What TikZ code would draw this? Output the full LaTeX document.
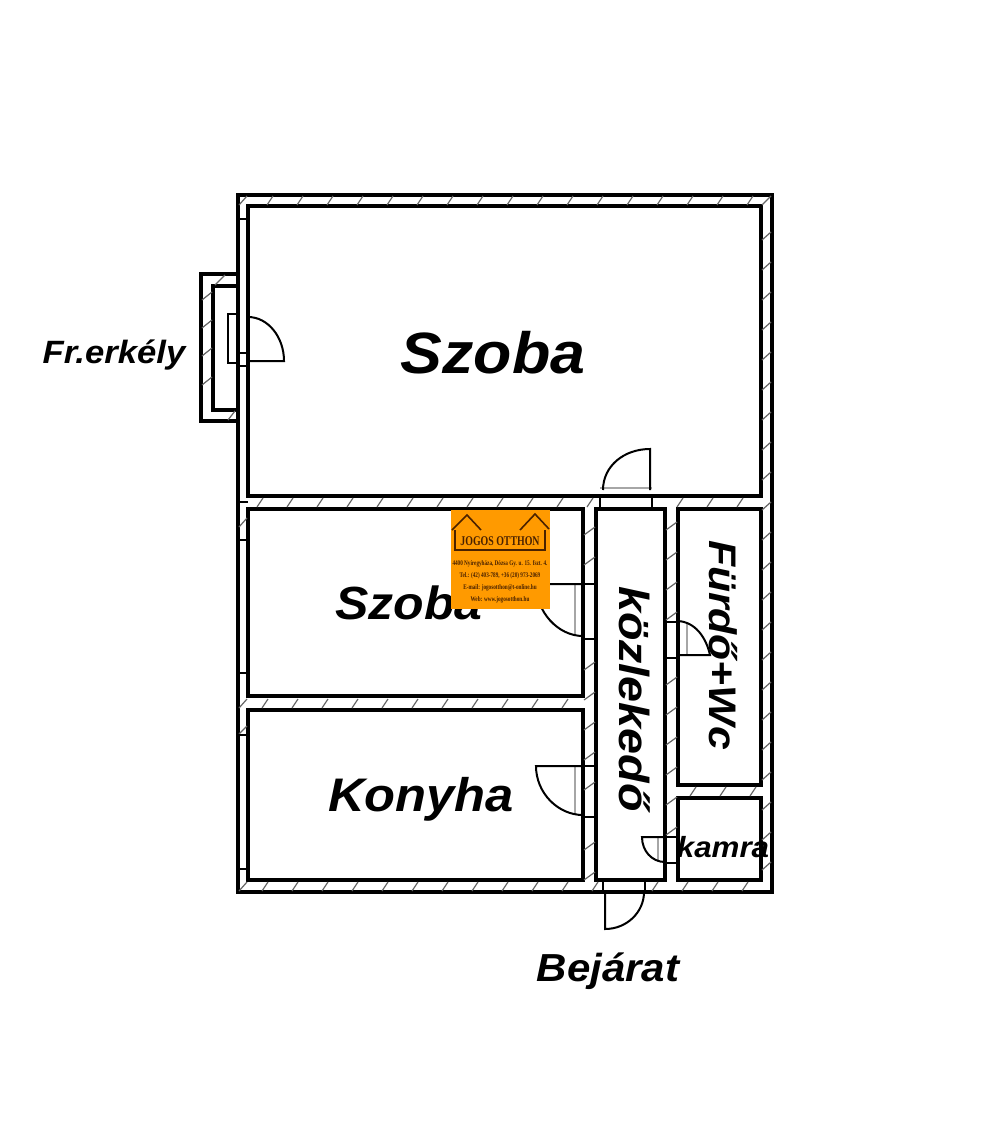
\documentclass[tikz,border=0pt]{standalone}
\usepackage{fontspec}
\setmainfont{Liberation Sans}
\newfontfamily\logofont{Liberation Serif}
\usepackage{tikz}
\definecolor{logoorange}{HTML}{FF9A00}
\definecolor{logobrown}{HTML}{4A2200}

\begin{document}
\begin{tikzpicture}[x=0.75pt,y=-0.75pt]
			\tikzstyle{wall}=[draw=black,line width=3pt,line join=miter]
			\tikzstyle{wallcap}=[draw=black,line width=1.8pt]
			\tikzstyle{hatch}=[draw=black!60,line width=0.9pt]
			\tikzstyle{door}=[draw=black,line width=1.5pt]
			\tikzstyle{sill}=[draw=black!35,line width=1.2pt]
			\tikzstyle{room}=[inner sep=0pt,yscale=.93]
			\tikzstyle{roomside}=[inner sep=0pt,rotate=-90,yscale=.9]
			\tikzstyle{logoline}=[draw=logobrown,line width=1.2pt]
			\tikzstyle{logotext}=[font=\logofont\bfseries\fontsize{4.1}{5}\selectfont,text=logobrown,inner sep=0pt,xscale=.95,yscale=1.3]

			\useasboundingbox (0,0) rectangle (1000,1121);
			\fill[white] (0,0) rectangle (1000,1121);

			\draw[wall] (238,195) rectangle (772,892);
			\draw[wall] (248,206) rectangle (761,496);
			\draw[wall] (248,509) rectangle (583,696);
			\draw[wall] (248,710) rectangle (583,880);
			\draw[wall] (596,509) rectangle (665,880);
			\draw[wall] (678,509) rectangle (761,785);
			\draw[wall] (678,798) rectangle (761,880);
			\draw[wall] (238,274) -- (201,274) -- (201,421) -- (238,421);
			\draw[wall] (238,286) -- (213,286) -- (213,410) -- (238,410);

			\foreach \x in {267,297,...,747}
				\draw[hatch] (\x,205) -- (\x+6,196);
			\foreach \x in {257,287,...,587,677,707,737}
				\draw[hatch] (\x,507) -- (\x+6,498);
			\foreach \x in {262,292,...,562}
				\draw[hatch] (\x,708) -- (\x+6,699);
			\foreach \x in {262,292,...,592,652,682,712,742}
				\draw[hatch] (\x,891) -- (\x+6,882);
			\foreach \x in {690,720,750}
				\draw[hatch] (\x,796) -- (\x+6,787);
			\foreach \y in {235,265,...,865}
				\draw[hatch] (762,\y+5) -- (771,\y-3);
			\foreach \y in {530,560,665,695,725,755,785,845,875}
				\draw[hatch] (584,\y+5) -- (595,\y-3);
			\foreach \y in {525,555,585,615,680,710,740,770,800,830}
				\draw[hatch] (666,\y+5) -- (677,\y-3);
			\foreach \y in {295,323,351,380}
				\draw[hatch] (202,\y+5) -- (212,\y-3);
			\draw[hatch] (215,285) -- (225,275);
			\draw[hatch] (228,420) -- (235,411);
			\draw[hatch] (239,205) -- (247,196);
			\draw[hatch] (239,527) -- (247,518);
			\draw[hatch] (239,708) -- (247,699);
			\draw[hatch] (239,734) -- (247,726);
			\draw[hatch] (239,891) -- (247,882);
			\draw[hatch] (762,205) -- (771,196);

			\foreach \y in {219,502,540,673,735,869}
				\draw[wallcap] (238,\y) -- (248,\y);
			\draw[wallcap] (600,497) -- (600,508);
			\draw[wallcap] (652,497) -- (652,508);
			\draw[wallcap] (583,584) -- (596,584);
			\draw[wallcap] (583,639) -- (596,639);
			\draw[wallcap] (583,766) -- (596,766);
			\draw[wallcap] (583,817) -- (596,817);
			\draw[wallcap] (665,622) -- (678,622);
			\draw[wallcap] (665,658) -- (678,658);
			\draw[wallcap] (665,837) -- (678,837);
			\draw[wallcap] (665,863) -- (678,863);
			\draw[wallcap] (603,881) -- (603,891);
			\draw[wallcap] (645,881) -- (645,891);
			\draw[wallcap] (238,353) -- (248,353);
			\draw[wallcap] (238,366) -- (248,366);

			\draw[sill] (600,488) -- (652,488);
			\draw[sill] (575,584) -- (575,636);
			\draw[sill] (575,766) -- (575,815);
			\draw[sill] (658,837) -- (658,862);
			\draw[sill] (687,622) -- (687,655);

			\draw[door] (238,314) -- (228,314) -- (228,363) -- (238,363);
			\draw[door] (248,361) -- (284,361) .. controls (284,337) and (268,317) .. (248,317);
			\draw[door] (650,490) -- (650,449) .. controls (624,449) and (603,466) .. (603,490);
			\draw[door] (583,584) -- (536,584) .. controls (536,612) and (558,636) .. (583,636);
			\draw[door] (583,766) -- (536,766) .. controls (536,793) and (558,815) .. (583,815);
			\draw[door] (665,837) -- (642,837) .. controls (642,851) and (652,862) .. (665,862);
			\draw[door] (605,892) -- (605,929) .. controls (627,929) and (644,912) .. (644,892);
			\draw[door] (678,655) -- (710,655) .. controls (706,637) and (695,622) .. (678,621);

			\node[room,font=\bfseries\itshape\fontsize{47}{50}\selectfont] (szobaA) at (493,353) {Szoba};
			\node[room,font=\bfseries\itshape\fontsize{37.5}{40}\selectfont] (szobaB) at (409,603) {Szoba};
			\node[room,font=\bfseries\itshape\fontsize{38}{40}\selectfont] (konyha) at (421,799) {Konyha};
			\node[room,font=\bfseries\itshape\fontsize{26}{28}\selectfont] (erkely) at (114,355) {Fr.erkély};
			\node[room,font=\bfseries\itshape\fontsize{31.5}{34}\selectfont] (bejarat) at (608,971) {Bejárat};
			\node[roomside,font=\bfseries\itshape\fontsize{35}{38}\selectfont] (kozlekedo) at (635,699) {közlekedő};
			\node[roomside,font=\bfseries\itshape\fontsize{32}{34}\selectfont] (furdo) at (723,645) {Fürdő+Wc};
			\node[room,font=\bfseries\itshape\fontsize{23.5}{26}\selectfont] (kamra) at (723,847) {kamra};

			\fill[logoorange] (451,510) rectangle (550,609);
			\draw[logoline] (452,530) -- (467,515) -- (481,530);
			\draw[logoline] (520,530) -- (535,514) -- (549,529);
			\draw[logoline] (455,530) -- (455,550) -- (545,550) -- (545,530);
			\node[inner sep=0pt,text=logobrown,xscale=.74,font=\logofont\bfseries\fontsize{10}{11}\selectfont] (logotitle) at (500,541) {JOGOS OTTHON};
			\node[logotext] (logoaddr) at (500,564) {4400 Nyíregyháza, Dózsa Gy. u. 15. fszt. 4.};
			\node[logotext] (logotel) at (500,576) {Tel.: (42) 403-789, +36 (20) 973-2069};
			\node[logotext] (logomail) at (500,588) {E-mail: jogosotthon@t-online.hu};
			\node[logotext] (logoweb) at (500,600) {Web: www.jogosotthon.hu};
\end{tikzpicture}
\end{document}
